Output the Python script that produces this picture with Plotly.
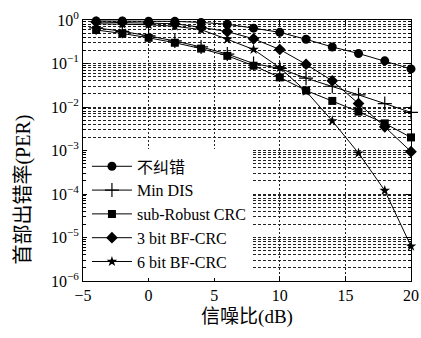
import plotly.graph_objects as go

snr = [-4, -2, 0, 2, 4, 6, 8, 10, 12, 14, 16, 18, 20]
no_corr = [0.95, 0.95, 0.94, 0.93, 0.88, 0.80, 0.65, 0.52, 0.36, 0.24, 0.17, 0.115, 0.075]
min_dis = [0.66, 0.55, 0.43, 0.33, 0.24, 0.165, 0.10, 0.077, 0.046, 0.030, 0.019, 0.012, 0.0075]
sub_robust = [0.59, 0.49, 0.39, 0.30, 0.22, 0.15, 0.089, 0.048, 0.024, 0.0138, 0.0078, 0.0042, 0.0020]
bf3 = [0.90, 0.88, 0.86, 0.82, 0.68, 0.54, 0.37, 0.21, 0.096, 0.040, 0.012, 0.0035, 0.00094]
bf6 = [0.82, 0.80, 0.78, 0.72, 0.60, 0.36, 0.21, 0.08, 0.023, 0.0048, 0.00087, 0.00012, 0.0000063]

names = ["不纠错", "Min DIS", "sub-Robust CRC", "3 bit BF-CRC", "6 bit BF-CRC"]
symbols = ["circle", "cross-thin", "square", "diamond", "star"]
sizes = [9, 10, 8, 9, 8]

y_tickvals = [1e-6, 1e-5, 1e-4, 1e-3, 1e-2, 1e-1, 1e0]
y_ticktext = ["10<sup>−6</sup>", "10<sup>−5</sup>", "10<sup>−4</sup>", "10<sup>−3</sup>",
              "10<sup>−2</sup>", "10<sup>−1</sup>", "10<sup>0</sup>"]
x_tickvals = [-5, 0, 5, 10, 15, 20]
x_ticktext = ["−5", "0", "5", "10", "15", "20"]
x_title = "信噪比(dB)"
y_title = "首部出错率(PER)"

minor_vals = [m * d for d in y_tickvals[:-1] for m in range(2, 10)]

FONT = "Liberation Serif, Noto Sans CJK SC, serif"

fig = go.Figure()
for name, ys, sym, sz in zip(names, [no_corr, min_dis, sub_robust, bf3, bf6], symbols, sizes):
    fig.add_trace(go.Scatter(
        x=snr, y=ys, name=name, mode="lines+markers", cliponaxis=False,
        line=dict(color="black", width=1),
        marker=dict(symbol=sym, size=sz, color="black",
                    line=dict(color="black", width=1.2 if sym == "cross-thin" else 0)),
    ))

fig.add_annotation(
    text=y_title, xref="paper", yref="paper", x=-0.18, y=0.35,
    xanchor="center", yanchor="middle", textangle=-90, showarrow=False,
    font=dict(family=FONT, size=20),
)

fig.update_layout(
    width=421, height=338,
    margin=dict(l=83, r=10, t=20, b=57),
    paper_bgcolor="white", plot_bgcolor="white",
    font=dict(family=FONT, size=16, color="black"),
    showlegend=True,
    legend=dict(x=0.012, y=0.01, xanchor="left", yanchor="bottom",
                bgcolor="white", borderwidth=0, tracegroupgap=0,
                font=dict(family=FONT, size=16), itemwidth=40),
    xaxis=dict(
        range=[-5, 20], tickmode="array", tickvals=x_tickvals, ticktext=x_ticktext,
        ticks="inside", ticklen=5, tickcolor="black", automargin=False,
        showline=True, linecolor="black", linewidth=1, mirror="ticks",
        showgrid=True, gridcolor="#222", gridwidth=0.8, griddash="2px,2px",
        zeroline=False,
        title=dict(text=x_title, font=dict(size=19), standoff=6),
    ),
    yaxis=dict(
        type="log", range=[-6, 0], tickmode="array", tickvals=y_tickvals, ticktext=y_ticktext,
        ticks="inside", ticklen=5, tickcolor="black", automargin=False,
        showline=True, linecolor="black", linewidth=1, mirror="ticks",
        showgrid=True, gridcolor="#222", gridwidth=0.8, griddash="3px,2px",
        zeroline=False,
        minor=dict(tickmode="array", tickvals=minor_vals, ticks="inside", ticklen=3,
                   tickcolor="black", showgrid=True, gridcolor="#222", gridwidth=0.8,
                   griddash="3px,2px"),
    ),
)

fig.write_html("out.html", config={"displayModeBar": False},
               post_script="document.body.style.margin='0';")
